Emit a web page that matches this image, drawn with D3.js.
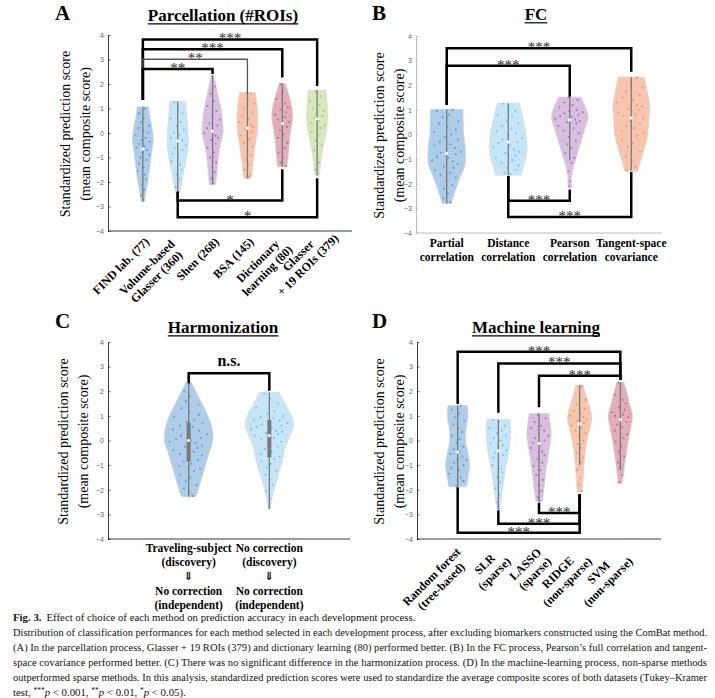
<!DOCTYPE html>
<html lang="en">
<head>
<meta charset="utf-8">
<script src="https://cdn.jsdelivr.net/npm/d3@7"></script>
<style>
  body { margin: 0; background: #fff; }
  svg text { font-family: "Liberation Serif", "DejaVu Serif", serif; }
  .tick text { font-family: "Liberation Sans", Arial, sans-serif; font-size: 7px; fill: #666; }
</style>
</head>
<body>
<svg id="fig" width="715" height="698"></svg>
<script>
// ---- shared ----
var yTicks = [-4, -3, -2, -1, 0, 1, 2, 3, 4];
var jitter = [0.42, -0.71, 0.15, -0.28, 0.83, -0.55, 0.06, 0.64, -0.88, 0.31, -0.12, 0.74, -0.46, 0.22,
  -0.79, 0.51, -0.03, 0.9, -0.37, 0.58, -0.62, 0.11, -0.94, 0.36, 0.69, -0.19, 0.47, -0.84, 0.27, -0.5,
  0.78, -0.08, 0.6, -0.33, 0.18, -0.67, 0.86];

// ---- A: parcellation ----
var catsA = [["FIND lab. (77)"], ["Volume-based", "Glasser (360)"], ["Shen (268)"], ["BSA (145)"],
  ["Dictionary", "learning (80)"], ["Glasser", "+ 19 ROIs (379)"]];
var shapesA = [
  [[1.07, 0.55], [0.7, 0.65], [0.3, 0.85], [-0.3, 1.0], [-0.8, 0.85], [-1.3, 0.7], [-1.8, 0.55], [-2.3, 0.35], [-2.8, 0.15]],
  [[1.3, 0.75], [0.8, 0.85], [0.2, 0.95], [-0.5, 1.0], [-1.0, 0.85], [-1.5, 0.6], [-2.0, 0.4], [-2.45, 0.2]],
  [[2.35, 0.15], [2.0, 0.3], [1.5, 0.55], [1.0, 0.8], [0.5, 0.95], [0.0, 1.0], [-0.5, 0.75], [-1.0, 0.55], [-1.5, 0.45], [-2.1, 0.3]],
  [[1.65, 0.75], [1.2, 0.9], [0.6, 1.0], [0.0, 0.95], [-0.5, 0.75], [-1.0, 0.6], [-1.5, 0.45], [-1.85, 0.35]],
  [[2.02, 0.3], [1.6, 0.6], [1.0, 0.95], [0.6, 1.0], [0.2, 0.85], [-0.3, 0.7], [-0.8, 0.6], [-1.38, 0.45]],
  [[1.75, 0.85], [1.2, 0.95], [0.6, 1.0], [0.0, 0.85], [-0.5, 0.6], [-1.0, 0.4], [-1.4, 0.3], [-1.72, 0.2]]
];
var mediansA = [-0.65, -0.33, 0.08, 0.2, 0.38, 0.58];
var whiskersA = [[-2.8, 1.07], [-2.45, 1.3], [-2.1, 2.35], [-1.85, 1.65], [-1.38, 2.02], [-1.72, 1.75]];
var pointsA = [
  [1.0, 0.8, 0.6, 0.45, 0.3, 0.2, 0.1, 0.0, -0.1, -0.2, -0.3, -0.35, -0.45, -0.55, -0.6, -0.7, -0.8, -0.9, -1.0, -1.1, -1.25, -1.4, -1.55, -1.7, -1.9, -2.1, -2.3, -2.55, -2.75],
  [1.25, 1.0, 0.8, 0.6, 0.45, 0.3, 0.15, 0.0, -0.1, -0.2, -0.3, -0.4, -0.5, -0.6, -0.7, -0.85, -1.0, -1.15, -1.3, -1.5, -1.7, -1.9, -2.2, -2.4],
  [2.3, 1.9, 1.6, 1.3, 1.1, 0.9, 0.7, 0.55, 0.4, 0.3, 0.2, 0.1, 0.0, -0.1, -0.2, -0.3, -0.45, -0.6, -0.8, -1.0, -1.2, -1.4, -1.6, -1.85, -2.05],
  [1.6, 1.4, 1.2, 1.0, 0.85, 0.7, 0.55, 0.45, 0.35, 0.25, 0.15, 0.05, -0.1, -0.25, -0.4, -0.55, -0.7, -0.9, -1.1, -1.3, -1.5, -1.7, -1.8],
  [2.0, 1.7, 1.4, 1.2, 1.05, 0.95, 0.85, 0.75, 0.65, 0.55, 0.45, 0.35, 0.25, 0.1, -0.05, -0.2, -0.4, -0.6, -0.8, -1.0, -1.2, -1.35],
  [1.7, 1.5, 1.3, 1.15, 1.0, 0.9, 0.8, 0.7, 0.6, 0.5, 0.4, 0.3, 0.2, 0.05, -0.1, -0.3, -0.5, -0.7, -0.95, -1.2, -1.5, -1.7]
];
// [from, to, level, leg end at "from", leg end at "to", label]
var bracketsA = [
  [0, 5, 3.82, 1.35, 1.92, "***"],
  [0, 4, 3.42, 1.35, 2.27, "***"],
  [0, 3, 3.01, 1.35, 1.58, "**"],
  [0, 2, 2.61, 1.35, 2.41, "**"],
  [1, 4, -2.76, -2.4, -1.48, "*"],
  [1, 5, -3.44, -2.4, -1.85, "*"]
];

// ---- B: FC ----
var catsB = [["Partial", "correlation"], ["Distance", "correlation"], ["Pearson", "correlation"], ["Tangent-space", "covariance"]];
var shapesB = [
  [[1.03, 0.88], [0.5, 0.9], [0.0, 0.92], [-0.5, 1.0], [-1.2, 1.0], [-1.7, 0.75], [-2.2, 0.5], [-2.8, 0.25]],
  [[1.27, 0.6], [0.8, 0.75], [0.3, 0.9], [-0.2, 1.0], [-0.8, 1.0], [-1.2, 0.85], [-1.65, 0.7]],
  [[1.52, 0.6], [1.2, 0.8], [0.7, 1.0], [0.3, 0.85], [-0.2, 0.65], [-0.7, 0.45], [-1.2, 0.25], [-1.6, 0.12], [-2.15, 0.1]],
  [[2.33, 0.7], [1.8, 0.85], [1.2, 1.0], [0.6, 0.95], [0.0, 0.9], [-0.6, 0.7], [-1.1, 0.5], [-1.5, 0.35]]
];
var mediansB = [-0.77, -0.3, 0.6, 0.67];
var whiskersB = [[-2.8, 1.03], [-1.65, 1.27], [-1.05, 1.52], [-1.47, 2.33]];
var pointsB = [
  [1.0, 0.95, 0.8, 0.7, 0.55, 0.45, 0.3, 0.2, 0.1, 0.0, -0.1, -0.2, -0.3, -0.4, -0.45, -0.55, -0.6, -0.7, -0.75, -0.8, -0.9, -0.95, -1.05, -1.1, -1.2, -1.3, -1.35, -1.45, -1.55, -1.65, -1.75, -1.9, -2.05, -2.2, -2.4, -2.6, -2.75],
  [1.25, 1.1, 0.95, 0.8, 0.7, 0.55, 0.45, 0.35, 0.25, 0.15, 0.05, -0.05, -0.15, -0.2, -0.3, -0.35, -0.45, -0.5, -0.6, -0.7, -0.75, -0.85, -0.95, -1.05, -1.15, -1.25, -1.35, -1.45, -1.55, -1.62],
  [1.5, 1.4, 1.3, 1.2, 1.1, 1.0, 0.95, 0.9, 0.85, 0.8, 0.75, 0.7, 0.65, 0.6, 0.55, 0.5, 0.45, 0.35, 0.25, 0.15, 0.05, -0.1, -0.25, -0.4, -0.55, -0.75, -0.95, -1.15, -1.5, -1.9, -2.1],
  [2.3, 2.1, 1.9, 1.75, 1.6, 1.5, 1.4, 1.3, 1.2, 1.15, 1.05, 1.0, 0.9, 0.8, 0.75, 0.65, 0.55, 0.45, 0.35, 0.25, 0.15, 0.05, -0.05, -0.2, -0.35, -0.5, -0.7, -0.9, -1.1, -1.3, -1.45]
];
var bracketsB = [
  [0, 3, 3.5, 1.2, 2.55, "***"],
  [0, 2, 2.79, 1.2, 1.53, "***"],
  [1, 2, -2.69, -1.69, -2.23, "***"],
  [1, 3, -3.35, -1.69, -1.52, "***"]
];

// ---- C: harmonization ----
var catsC = [["Traveling-subject", "(discovery)", "\u21d3", "No correction", "(independent)"],
  ["No correction", "(discovery)", "\u21d3", "No correction", "(independent)"]];
var shapesC = [
  [[2.35, 0.12], [2.0, 0.3], [1.5, 0.55], [1.0, 0.8], [0.5, 0.97], [0.0, 1.0], [-0.5, 0.85], [-1.0, 0.7], [-1.5, 0.55], [-2.0, 0.4], [-2.28, 0.3]],
  [[1.95, 0.4], [1.5, 0.65], [0.9, 0.95], [0.6, 1.0], [0.2, 0.85], [-0.3, 0.65], [-0.8, 0.55], [-1.3, 0.4], [-1.8, 0.25], [-2.3, 0.12], [-2.78, 0.04]]
];
var mediansC = [0.0, 0.2];
var whiskersC = [[-2.28, 2.35], [-2.78, 1.95]];
var quartilesC = [[-0.85, 0.72], [-0.68, 0.83]];
var pointsC = [
  [2.3, 2.0, 1.8, 1.6, 1.45, 1.3, 1.15, 1.05, 0.95, 0.85, 0.75, 0.7, 0.6, 0.55, 0.45, 0.4, 0.3, 0.25, 0.2, 0.1, 0.05, 0.0, -0.05, -0.1, -0.2, -0.25, -0.3, -0.4, -0.45, -0.55, -0.6, -0.7, -0.8, -0.85, -0.95, -1.05, -1.15, -1.25, -1.4, -1.5, -1.65, -1.8, -1.95, -2.1, -2.25],
  [1.9, 1.7, 1.5, 1.35, 1.2, 1.1, 1.0, 0.95, 0.9, 0.85, 0.8, 0.75, 0.7, 0.65, 0.6, 0.55, 0.5, 0.45, 0.4, 0.35, 0.3, 0.25, 0.2, 0.1, 0.05, -0.05, -0.15, -0.25, -0.35, -0.45, -0.55, -0.65, -0.75, -0.85, -0.95, -1.1, -1.25, -1.4, -1.6, -1.8, -2.05, -2.35, -2.7]
];
var bracketsC = [[0, 1, 2.73, 2.32, 2.02, "n.s."]];

// ---- D: machine learning ----
var catsD = [["Random forest", "(tree-based)"], ["SLR", "(sparse)"], ["LASSO", "(sparse)"], ["RIDGE", "(non-sparse)"], ["SVM", "(non-sparse)"]];
var shapesD = [
  [[1.42, 0.8], [1.0, 0.85], [0.5, 0.7], [0.0, 0.65], [-0.5, 0.85], [-1.0, 1.0], [-1.5, 0.85], [-1.88, 0.75]],
  [[0.85, 0.95], [0.4, 1.0], [-0.1, 0.95], [-0.6, 0.8], [-1.1, 0.6], [-1.6, 0.45], [-2.1, 0.3], [-2.5, 0.2], [-2.8, 0.1]],
  [[1.1, 0.8], [0.6, 0.95], [0.2, 1.0], [-0.3, 0.85], [-0.8, 0.7], [-1.3, 0.55], [-1.8, 0.45], [-2.2, 0.35], [-2.48, 0.25]],
  [[2.25, 0.3], [1.8, 0.55], [1.3, 0.85], [0.9, 1.0], [0.5, 0.85], [0.0, 0.6], [-0.5, 0.45], [-1.0, 0.35], [-1.5, 0.3], [-2.1, 0.2]],
  [[2.37, 0.3], [2.0, 0.5], [1.5, 0.75], [1.0, 1.0], [0.5, 0.85], [0.0, 0.65], [-0.5, 0.5], [-1.0, 0.35], [-1.4, 0.25], [-1.75, 0.15]]
];
var mediansD = [-0.47, -0.42, -0.13, 0.68, 0.85];
var whiskersD = [[-1.88, 1.42], [-2.8, 0.85], [-2.48, 1.1], [-0.99, 2.25], [-1.2, 2.37]];
var pointsD = [
  [1.4, 1.25, 1.1, 0.95, 0.8, 0.65, 0.5, 0.35, 0.2, 0.05, -0.1, -0.25, -0.35, -0.45, -0.55, -0.65, -0.75, -0.8, -0.9, -1.0, -1.1, -1.2, -1.35, -1.5, -1.65, -1.85],
  [0.85, 0.75, 0.6, 0.5, 0.4, 0.3, 0.2, 0.1, 0.0, -0.1, -0.2, -0.3, -0.4, -0.5, -0.6, -0.7, -0.85, -1.0, -1.15, -1.3, -1.5, -1.7, -1.95, -2.2, -2.5, -2.75],
  [1.05, 0.9, 0.75, 0.6, 0.5, 0.4, 0.3, 0.2, 0.1, 0.0, -0.1, -0.2, -0.3, -0.45, -0.6, -0.75, -0.9, -1.05, -1.2, -1.4, -1.6, -1.8, -2.05, -2.3, -2.45],
  [2.2, 1.9, 1.65, 1.45, 1.3, 1.2, 1.1, 1.0, 0.95, 0.85, 0.8, 0.7, 0.6, 0.5, 0.4, 0.3, 0.15, 0.0, -0.15, -0.3, -0.5, -0.7, -0.9, -1.2, -1.5, -1.8, -2.05],
  [2.35, 2.1, 1.85, 1.65, 1.5, 1.35, 1.25, 1.15, 1.05, 1.0, 0.95, 0.85, 0.75, 0.65, 0.55, 0.4, 0.25, 0.1, -0.05, -0.25, -0.45, -0.65, -0.9, -1.15, -1.4, -1.7]
];
var bracketsD = [
  [0, 4, 3.6, 1.48, 2.46, "***"],
  [1, 4, 3.13, 1.13, 2.46, "***"],
  [2, 4, 2.63, 1.35, 2.46, "***"],
  [2, 3, -2.94, -2.53, -2.18, "***"],
  [1, 3, -3.38, -2.83, -2.18, "***"],
  [0, 3, -3.75, -1.9, -2.18, "***"]
];

// ---- caption ----
var captionLines = [
  "Distribution of classification performances for each method selected in each development process, after excluding biomarkers constructed using the ComBat method.",
  "(A) In the parcellation process, Glasser + 19 ROIs (379) and dictionary learning (80) performed better. (B) In the FC process, Pearson\u2019s full correlation and tangent-",
  "space covariance performed better. (C) There was no significant difference in the harmonization process. (D) In the machine-learning process, non-sparse methods",
  "outperformed sparse methods. In this analysis, standardized prediction scores were used to standardize the average composite scores of both datasets (Tukey\u2013Kramer"
];

// ---- styles ----
var palette = {
  blue: ["#aecde8", "#3f8dcb"],
  sky: ["#c6e6f8", "#4fb6ea"],
  purple: ["#d8bedf", "#985aa6"],
  orange: ["#f6c7ae", "#ea8450"],
  red: ["#e3aebb", "#c54a62"],
  green: ["#d7e8bd", "#8cbf50"]
};

var svg = d3.select("#fig");

function halfAt(profile, v) {
  for (var i = 0; i < profile.length - 1; i++) {
    var a = profile[i], b = profile[i + 1];
    if (v <= a[0] && v >= b[0]) {
      return a[1] + (b[1] - a[1]) * (a[0] - v) / (a[0] - b[0]);
    }
  }
  return profile[profile.length - 1][1];
}

function drawPanel(p) {
  var g = svg.append("g");
  var x = d3.scaleLinear().domain(p.xDomain).range([p.left, p.right]);
  var y = d3.scaleLinear().domain([-4, 4]).range([p.bottom, p.top]);
  var hw = x(1 + 0.3) - x(1);

  // axes
  var yAxis = d3.axisLeft(y).tickValues(yTicks).tickSizeInner(-2.5).tickSizeOuter(0).tickPadding(4);
  var ax = g.append("g").attr("transform", "translate(" + p.left + ",0)").call(yAxis);
  ax.select(".domain").attr("stroke", p.axisColor).attr("stroke-width", 0.9);
  ax.selectAll(".tick line").attr("stroke", p.axisColor).attr("stroke-width", 0.7);
  g.append("line")
    .attr("x1", p.left).attr("x2", p.right)
    .attr("y1", y(-4)).attr("y2", y(-4))
    .attr("stroke", p.axisColor).attr("stroke-width", 0.9);

  // violins
  p.shapes.forEach(function(shape, i) {
    var cx = x(i + 1);
    var col = palette[p.colors[i]];
    var area = d3.area()
      .y(function(d) { return y(d[0]); })
      .x0(function(d) { return cx - d[1] * hw; })
      .x1(function(d) { return cx + d[1] * hw; })
      .curve(d3.curveCatmullRom);
    g.append("path")
      .attr("d", area(shape))
      .attr("fill", col[0])
      .attr("stroke", "#d4d4d4")
      .attr("stroke-width", 0.6);

    g.append("g").selectAll("circle")
      .data(p.points[i])
      .enter().append("circle")
      .attr("cx", function(v, k) { return cx + jitter[(k + i * 5) % jitter.length] * halfAt(shape, v) * hw * 0.85; })
      .attr("cy", function(v) { return y(v); })
      .attr("r", 1.05)
      .attr("fill", col[1])
      .attr("opacity", 0.7);

    var wk = p.whiskers[i];
    g.append("line")
      .attr("x1", cx).attr("x2", cx)
      .attr("y1", y(wk[0])).attr("y2", y(wk[1]))
      .attr("stroke", "#7a7a7a").attr("stroke-width", 1.3);
    if (p.quartiles) {
      var q = p.quartiles[i];
      g.append("line")
        .attr("x1", cx).attr("x2", cx)
        .attr("y1", y(q[0])).attr("y2", y(q[1]))
        .attr("stroke", "#7a7a7a").attr("stroke-width", 4);
    }
    g.append("circle")
      .attr("cx", cx).attr("cy", y(p.medians[i]))
      .attr("r", 1.6).attr("fill", "#fff");
  });

  // significance brackets
  p.brackets.forEach(function(b, k) {
    var xa = x(b[0] + 1), xb = x(b[1] + 1);
    var thin = p.thin && p.thin.indexOf(k) >= 0;
    g.append("path")
      .attr("d", "M" + xa + "," + y(b[3]) + "V" + y(b[2]) + "H" + xb + "V" + y(b[4]))
      .attr("fill", "none")
      .attr("stroke", thin ? "#555" : "#000")
      .attr("stroke-width", thin ? 1.3 : 2.5);
    var t = g.append("text")
      .attr("x", (xa + xb) / 2)
      .attr("text-anchor", "middle")
      .text(b[5]);
    if (b[5] === "n.s.") {
      t.attr("y", y(b[2]) - 7).attr("font-size", 16).attr("font-weight", "bold");
    } else {
      // tiny rotation keeps the small glyphs on greyscale antialiasing
      var sx = (xa + xb) / 2, sy = y(b[2]) + 4;
      t.attr("y", sy).attr("font-size", 15).attr("fill", "#2a2a2a")
        .attr("transform", "rotate(0.01," + sx + "," + sy + ")");
    }
  });

  // y-axis title
  var yt = g.append("g")
    .attr("transform", "translate(" + p.yTitleX + "," + ((p.top + p.bottom) / 2 + 1) + ") rotate(-90)");
  yt.append("text").attr("text-anchor", "middle").attr("font-size", 14).text("Standardized prediction score");
  yt.append("text").attr("y", 20).attr("text-anchor", "middle").attr("font-size", 14).text("(mean composite score)");

  // category labels
  p.cats.forEach(function(lines, i) {
    var tx = x(i + 1);
    if (p.rotated) {
      var lh = 13.5, H = lines.length * lh;
      var ltx = g.append("g")
        .attr("transform", "translate(" + (tx + 9 + p.labelDx - 0.354 * H) + "," + (y(-4) + 2 + 0.5 * H) + ") rotate(-45)");
      var texts = lines.map(function(s, j) {
        return ltx.append("text")
          .attr("y", (j - (lines.length - 1) / 2) * lh)
          .attr("dy", "0.35em")
          .attr("text-anchor", "middle")
          .attr("font-size", 12)
          .attr("font-weight", "bold")
          .text(s);
      });
      // lines are centred on the first line, whose end sits at the anchor
      var W = p.alignFirst ? texts[0].node().getComputedTextLength()
        : d3.max(texts, function(t) { return t.node().getComputedTextLength(); });
      texts.forEach(function(t) { t.attr("x", -W / 2); });
    } else {
      lines.forEach(function(s, j) {
        g.append("text")
          .attr("x", tx)
          .attr("y", y(-4) + p.labelY0 + j * p.labelLh)
          .attr("text-anchor", "middle")
          .attr("font-size", 11.5)
          .attr("font-weight", "bold")
          .text(s);
      });
    }
  });

  // letter and title
  g.append("text")
    .attr("x", p.letterX).attr("y", p.letterY)
    .attr("font-size", 21).attr("font-weight", "bold")
    .text(p.letter);
  var title = g.append("text")
    .attr("x", p.titleX).attr("y", p.titleY)
    .attr("text-anchor", "middle")
    .attr("font-size", 17).attr("font-weight", "bold")
    .text(p.title);
  var tw = title.node().getComputedTextLength();
  g.append("line")
    .attr("x1", p.titleX - tw / 2).attr("x2", p.titleX + tw / 2)
    .attr("y1", p.titleY + 2.8).attr("y2", p.titleY + 2.8)
    .attr("stroke", "#000").attr("stroke-width", 1.2);
}

drawPanel({
  left: 108, right: 352, top: 35, bottom: 231, xDomain: [0, 7],
  letter: "A", letterX: 55, letterY: 19.5, title: "Parcellation (#ROIs)", titleX: 223, titleY: 21,
  cats: catsA, shapes: shapesA, medians: mediansA, whiskers: whiskersA, points: pointsA,
  brackets: bracketsA, thin: [2], colors: ["blue", "sky", "purple", "orange", "red", "green"],
  axisColor: "#222", yTitleX: 69.5, rotated: true, labelDx: 0, alignFirst: true
});
drawPanel({
  left: 416, right: 662, top: 36, bottom: 233, xDomain: [0.5, 4.5],
  letter: "B", letterX: 372, letterY: 19.5, title: "FC", titleX: 536, titleY: 20,
  cats: catsB, shapes: shapesB, medians: mediansB, whiskers: whiskersB, points: pointsB,
  brackets: bracketsB, colors: ["blue", "sky", "purple", "orange"],
  axisColor: "#b5b5b5", yTitleX: 384, rotated: false, labelY0: 14, labelLh: 14
});
drawPanel({
  left: 108, right: 350, top: 342, bottom: 539, xDomain: [0, 3],
  letter: "C", letterX: 55, letterY: 328, title: "Harmonization", titleX: 223, titleY: 333,
  cats: catsC, shapes: shapesC, medians: mediansC, whiskers: whiskersC, quartiles: quartilesC, points: pointsC,
  brackets: bracketsC, colors: ["blue", "sky"],
  axisColor: "#222", yTitleX: 68, rotated: false, labelY0: 13, labelLh: 14.2
});
drawPanel({
  left: 417, right: 661, top: 342, bottom: 539, xDomain: [0, 6],
  letter: "D", letterX: 372, letterY: 328, title: "Machine learning", titleX: 536, titleY: 333,
  cats: catsD, shapes: shapesD, medians: mediansD, whiskers: whiskersD, points: pointsD,
  brackets: bracketsD, colors: ["blue", "sky", "purple", "orange", "red"],
  axisColor: "#222", yTitleX: 384, rotated: true, labelDx: 6
});

// ---- caption ----
var capFont = 10.8;
var cap = svg.append("g").attr("font-size", capFont).attr("fill", "#111");
var capX = 13, capW = 694, capY0 = 621, capLh = 15;
var l1 = cap.append("text").attr("x", capX).attr("y", capY0);
l1.append("tspan").attr("font-weight", "bold").text("Fig. 3.");
l1.append("tspan").attr("dx", 5).text("Effect of choice of each method on prediction accuracy in each development process.");
captionLines.forEach(function(s, i) {
  var t = cap.append("text")
    .attr("x", capX).attr("y", capY0 + (i + 1) * capLh)
    .text(s);
  // shrink the type until the line fits, then justify it to the full width
  var natural = t.node().getComputedTextLength();
  if (natural > capW) t.attr("font-size", capFont * capW / natural - 0.05);
  t.attr("textLength", capW).attr("lengthAdjust", "spacing");
});
var l6 = cap.append("text").attr("x", capX).attr("y", capY0 + 5 * capLh);
l6.append("tspan").text("test, ");
[["***", "0.001"], ["**", "0.01"], ["*", "0.05"]].forEach(function(d, i) {
  l6.append("tspan").attr("font-size", 7.5).attr("dy", -3.5).text(d[0]);
  l6.append("tspan").attr("font-style", "italic").attr("dy", 3.5).text("p");
  l6.append("tspan").text(" < " + d[1] + (i < 2 ? ", " : ")."));
});
</script>
</body>
</html>
